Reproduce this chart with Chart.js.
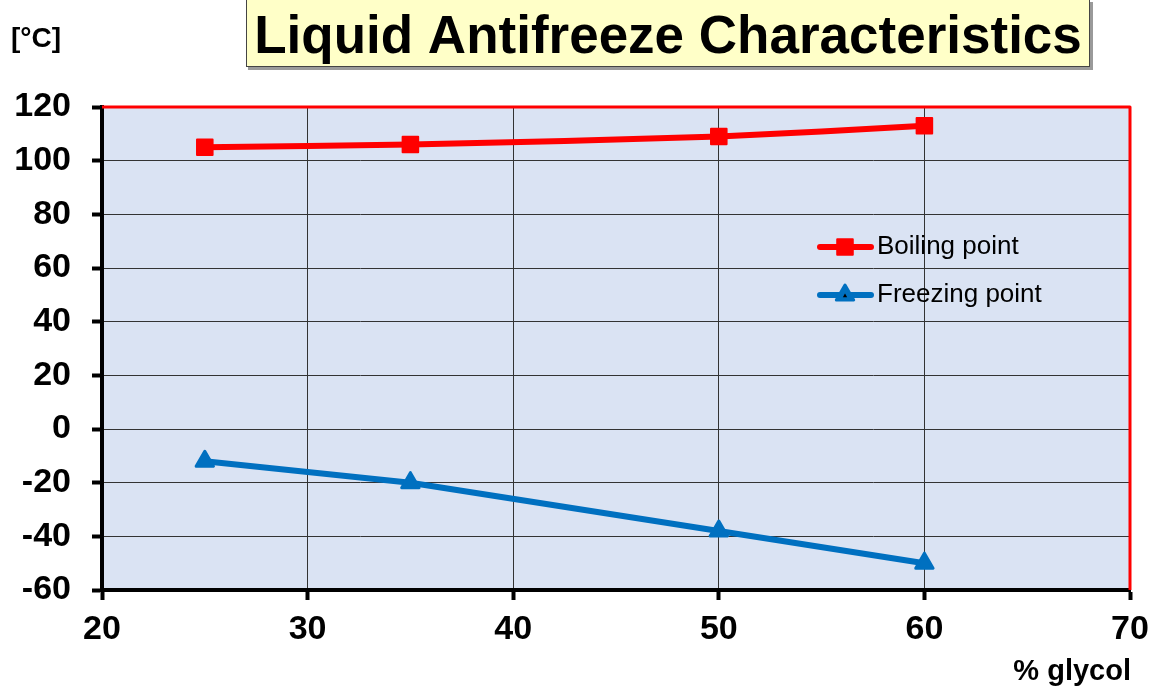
<!DOCTYPE html>
<html lang="en">
<head>
  <meta charset="UTF-8" />
  <title>Liquid Antifreeze Characteristics</title>
  <script src="https://cdn.jsdelivr.net/npm/chart.js"></script>
  <style>
    body { margin: 0; background: #fff; }
    #chart { display: block; }
  </style>
</head>
<body>
  <canvas id="chart" width="1151" height="687"></canvas>

  <script>
    // concentration (% glycol) and temperatures in °C
    const glycol = [25, 35, 50, 60];
    const boilingPoint = [105, 106, 109, 113];
    const freezingPoint = [-12, -20, -38, -50];
    const xRange = [20, 70];
    const yRange = [-60, 120];
    const xStep = 10;
    const yStep = 20;

    const RED = '#FF0000';
    const BLUE = '#0070C0';
    const FONT = "'Liberation Sans', Arial, sans-serif";

    const toPoints = ys => glycol.map((x, i) => ({ x: x, y: ys[i] }));

    // plot background, title box and axis captions
    const decorations = {
      id: 'decorations',
      beforeDraw(chart) {
        const { ctx, chartArea: a } = chart;
        ctx.save();
        ctx.fillStyle = '#DAE3F3';
        ctx.fillRect(a.left, a.top, a.right - a.left, a.bottom - a.top);

        // title box with a small shadow
        ctx.fillStyle = '#9a9a9a';
        ctx.fillRect(248, 2, 845, 68);
        ctx.fillStyle = '#FFFFC8';
        ctx.fillRect(246, -1, 844, 68);
        ctx.strokeStyle = '#444';
        ctx.lineWidth = 1;
        ctx.strokeRect(246.5, -0.5, 843, 67);

        ctx.fillStyle = '#000';
        ctx.font = 'bold 53px ' + FONT;
        ctx.textAlign = 'center';
        ctx.textBaseline = 'alphabetic';
        ctx.fillText('Liquid Antifreeze Characteristics', 668, 53);

        ctx.font = 'bold 28px ' + FONT;
        ctx.textAlign = 'left';
        ctx.fillText('[°C]', 11, 47);
        ctx.font = 'bold 29px ' + FONT;
        ctx.textAlign = 'right';
        ctx.fillText('% glycol', 1131, 680);
        ctx.restore();
      },
      beforeDatasetsDraw(chart) {
        // rounded corners on the markers
        chart.ctx.lineJoin = 'round';
      },
      afterDatasetsDraw(chart) {
        const { ctx, chartArea: a } = chart;
        ctx.save();
        ctx.strokeStyle = RED;
        ctx.lineWidth = 3;
        ctx.beginPath();
        ctx.moveTo(a.left, a.top);
        ctx.lineTo(a.right, a.top);
        ctx.lineTo(a.right, a.bottom);
        ctx.stroke();
        ctx.restore();
      }
    };

    // legend placed inside the plot area
    const innerLegend = {
      id: 'innerLegend',
      afterDraw(chart) {
        const { ctx } = chart;
        const rows = [0, 1].map(i => chart.data.datasets[i]);
        ctx.save();
        ctx.lineJoin = 'round';
        rows.forEach((ds, i) => {
          const y = 247 + i * 48;
          ctx.strokeStyle = ds.borderColor;
          ctx.lineWidth = ds.borderWidth;
          ctx.lineCap = 'round';
          ctx.beginPath();
          ctx.moveTo(820, y);
          ctx.lineTo(871, y);
          ctx.stroke();
          ctx.fillStyle = ds.pointBackgroundColor;
          ctx.strokeStyle = ds.pointBorderColor;
          ctx.lineWidth = ds.pointBorderWidth;
          Chart.helpers.drawPoint(ctx, {
            pointStyle: ds.pointStyle, radius: ds.pointRadius,
            rotation: 0, borderWidth: ds.pointBorderWidth
          }, 845, y);
          if (i === 1) {
            ctx.fillStyle = '#000';
            ctx.lineWidth = 0;
            Chart.helpers.drawPoint(ctx, { pointStyle: 'triangle', radius: 2.5, rotation: 0, borderWidth: 0 }, 845, y + 1);
          }
          ctx.fillStyle = '#000';
          ctx.font = '26px ' + FONT;
          ctx.textAlign = 'left';
          ctx.textBaseline = 'middle';
          ctx.fillText(ds.label, 877, y);
        });
        ctx.restore();
      }
    };

    const tickFont = { family: FONT, size: 34, weight: 'bold' };

    new Chart(document.getElementById('chart'), {
      type: 'line',
      data: {
        datasets: [
          {
            label: 'Boiling point',
            data: toPoints(boilingPoint),
            borderColor: RED,
            borderWidth: 6,
            borderJoinStyle: 'round',
            tension: 0.2,
            pointStyle: 'rect',
            pointRadius: 11,
            pointBorderWidth: 2,
            pointBackgroundColor: RED,
            pointBorderColor: RED
          },
          {
            label: 'Freezing point',
            data: toPoints(freezingPoint),
            borderColor: BLUE,
            borderWidth: 6,
            borderJoinStyle: 'round',
            tension: 0,
            pointStyle: 'triangle',
            pointRadius: 10,
            pointBorderWidth: 3,
            pointBackgroundColor: BLUE,
            pointBorderColor: BLUE
          },
          {
            // dark centre dot of the triangle markers
            label: 'marker dots',
            data: toPoints(freezingPoint),
            showLine: false,
            pointStyle: 'triangle',
            pointRadius: 2.5,
            pointBorderWidth: 0,
            pointBackgroundColor: '#000'
          }
        ]
      },
      options: {
        responsive: false,
        animation: false,
        layout: { padding: { top: 107, right: 21, left: 0, bottom: 0 } },
        plugins: { legend: { display: false }, tooltip: { enabled: false } },
        scales: {
          x: {
            type: 'linear',
            min: xRange[0],
            max: xRange[1],
            ticks: { stepSize: xStep, color: '#000', font: tickFont, padding: 9 },
            grid: { color: '#333', lineWidth: 1, tickLength: 10, tickWidth: 4, tickColor: '#000' },
            border: { color: '#000', width: 4 },
            afterFit(scale) {
              scale.height = 97;
              scale.paddingLeft = 0;
              scale.paddingRight = 0;
            }
          },
          y: {
            min: yRange[0],
            max: yRange[1],
            ticks: { stepSize: yStep, color: '#000', font: tickFont, padding: 21 },
            grid: { color: '#333', lineWidth: 1, tickLength: 10, tickWidth: 4, tickColor: '#000' },
            border: { color: '#000', width: 4 },
            afterFit(scale) { scale.width = 102; }
          }
        }
      },
      plugins: [decorations, innerLegend]
    });
  </script>
</body>
</html>
